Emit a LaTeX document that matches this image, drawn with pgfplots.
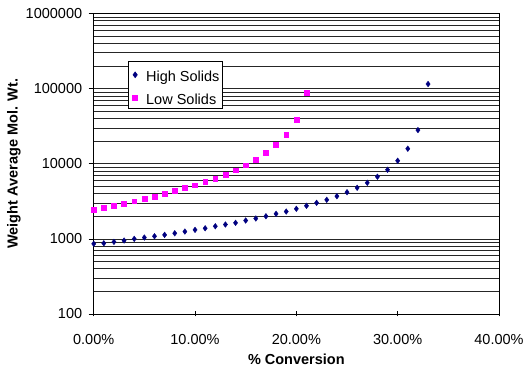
\documentclass[border=0pt]{standalone}
\usepackage{fontspec}
\setmainfont{Liberation Sans}
\usepackage{pgfplots}
\pgfplotsset{compat=1.18}
\definecolor{hsblue}{RGB}{0,0,128}
\definecolor{lsmag}{RGB}{255,0,255}
\newcommand{\chartfont}{\fontsize{14.5bp}{17bp}\selectfont}
\pgfplotsset{myleg/.style={legend image code/.code={\path[draw=none,fill=none] (0bp,0bp) rectangle (15bp,7bp); \draw[##1] plot coordinates {(6bp,7bp)};}}}
\begin{document}
\begin{tikzpicture}
\begin{axis}[name=ax, scale only axis, width=405.3bp, height=300.5bp,
  xmin=0, xmax=0.4, ymode=log, ymin=100, ymax=1000000,
  xtick={0,0.1,0.2,0.3,0.4},
  xticklabels={0.00\%,10.00\%,20.00\%,30.00\%,40.00\%},
  ytick={100,1000,10000,100000,1000000},
  yticklabels={100,1000,10000,100000,1000000},
  /pgf/number format/assume math mode=true,
  ymajorgrids, yminorgrids,
  major grid style={black!85, line width=0.6bp},
  minor grid style={black!85, line width=0.6bp},
  axis line style={black, line width=0.7bp},
  tick style={black, line width=0.7bp},
  xtick pos=left, ytick pos=left,
  xtick align=center, ytick align=outside,
  major tick length=5bp, minor tick length=0bp,
  tick label style={font=\chartfont},
  xticklabel style={anchor=base, yshift=-28bp},
  yticklabel style={anchor=east, xshift=-3bp},
  xlabel={\bfseries \% Conversion},
  ylabel={\bfseries Weight Average Mol. Wt.},
  label style={font=\chartfont},
  xlabel style={at={(axis description cs:0.5,-0.1697)}, anchor=base},
  ylabel style={at={(axis description cs:-0.1966,0.5)}, anchor=center, rotate=0},
  legend style={at={(axis description cs:0.0854,0.842)}, anchor=north west,
    draw=black, line width=0.7bp, fill=white, font=\chartfont, inner xsep=0.5bp, inner ysep=1.5bp,
    row sep=1.8bp, cells={anchor=base west},
    nodes={inner sep=2bp, text height=17bp, text depth=0bp}},
]
\addplot[only marks, mark=diamond*, mark size=2.8bp, color=hsblue, myleg] coordinates {
(0.00,860) (0.01,874) (0.02,912) (0.03,949) (0.04,1000) (0.05,1041)
(0.06,1083) (0.07,1130) (0.08,1188) (0.09,1250) (0.10,1318) (0.11,1384)
(0.12,1472) (0.13,1552) (0.14,1634) (0.15,1754) (0.16,1866) (0.17,2000)
(0.18,2154) (0.19,2312) (0.20,2512) (0.21,2754) (0.22,3020) (0.23,3311)
(0.24,3698) (0.25,4180) (0.26,4786) (0.27,5580) (0.28,6714) (0.29,8318)
(0.30,10970) (0.31,15850) (0.32,28050) (0.33,115100)
};
\addlegendentry{High Solids}
\addplot[only marks, mark=square*, mark size=2.4bp, color=lsmag, myleg] coordinates {
(0.00,2460) (0.01,2612) (0.02,2754) (0.03,2958) (0.04,3171) (0.05,3413)
(0.06,3664) (0.07,3981) (0.08,4365) (0.09,4786) (0.10,5188) (0.11,5754)
(0.12,6370) (0.13,7200) (0.14,8222) (0.15,9570) (0.16,11400) (0.17,14020)
(0.18,17900) (0.19,24600) (0.20,38600) (0.21,88500)
};
\addlegendentry{Low Solids}
\end{axis}
\pgfresetboundingbox
\path[use as bounding box] ([xshift=-93.7bp,yshift=-54bp]ax.south west) rectangle ([xshift=24bp,yshift=13.5bp]ax.north east);
\end{tikzpicture}
\end{document}
